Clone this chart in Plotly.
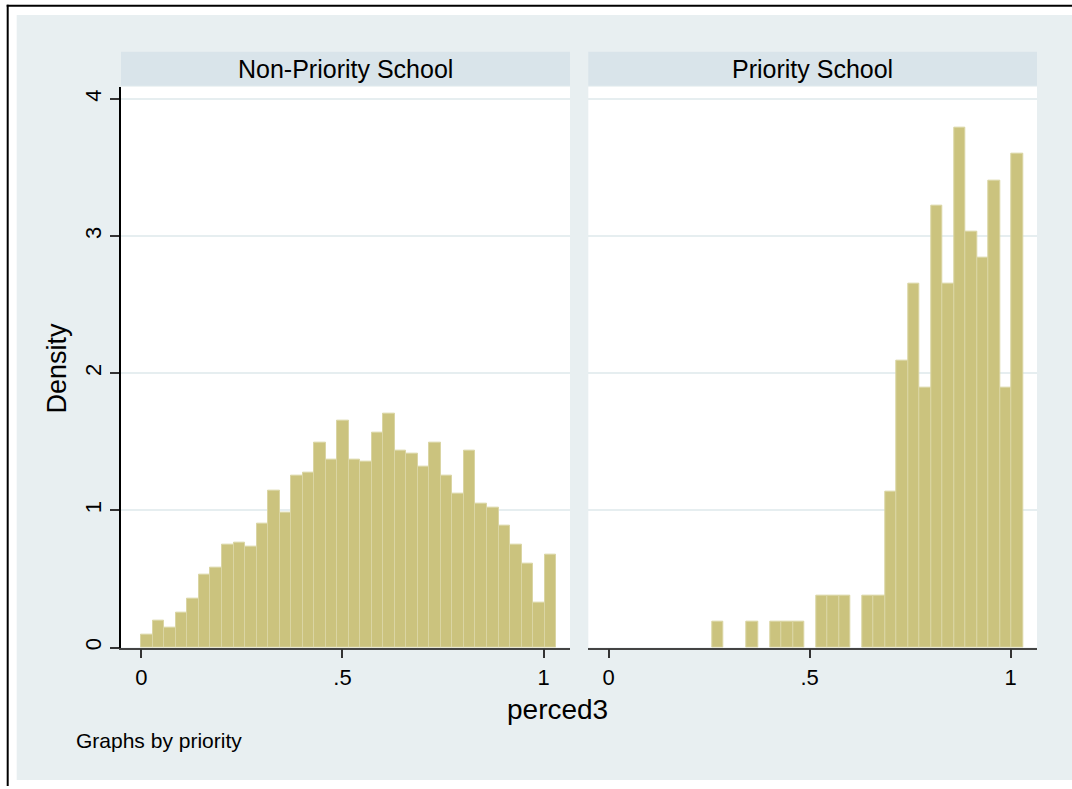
import plotly.graph_objects as go

# ---- data ----
bin_start = 0.0
bin_width = 0.02864
panels = ["Non-Priority School", "Priority School"]
density_nonpriority = [0.093, 0.195, 0.146, 0.255, 0.357, 0.534, 0.580, 0.749, 0.766, 0.739,
                       0.904, 1.143, 0.984, 1.250, 1.274, 1.492, 1.368, 1.654, 1.370, 1.356,
                       1.564, 1.705, 1.439, 1.414, 1.322, 1.494, 1.255, 1.124, 1.439, 1.051,
                       1.020, 0.892, 0.751, 0.611, 0.325, 0.674]
density_priority = [None, None, None, None, None, None, None, None, None, 0.186,
                    None, None, 0.186, None, 0.186, 0.186, 0.186, None, 0.379, 0.379,
                    0.379, None, 0.379, 0.379, 1.134, 2.089, 2.653, 1.892, 3.223, 2.653,
                    3.793, 3.030, 2.841, 3.406, 1.892, 3.600]
x_tickvals = [0, 0.5, 1]
x_ticktext = ["0", ".5", "1"]
y_tickvals = [0, 1, 2, 3, 4]
y_ticktext = ["0", "1", "2", "3", "4"]
x_title = "perced3"
y_title = "Density"
note = "Graphs by priority"

# ---- layout helpers ----
W, H = 1072, 789
FONT = "Liberation Sans, Arial, sans-serif"
BG = "#E8EFF1"
STRIP = "#D9E4EA"
GRID = "#E6EEF0"
BAR = "#CBC37E"
BAR_LINE = "#DAD5A3"


def px(x):
    return x / W


def py(y):
    return 1 - y / H


centers = [bin_start + bin_width * (i + 0.5) for i in range(len(density_nonpriority))]

fig = go.Figure()
for k, vals in enumerate([density_nonpriority, density_priority]):
    fig.add_trace(go.Bar(
        x=centers, y=vals, width=bin_width,
        marker=dict(color=BAR, line=dict(color=BAR_LINE, width=1)),
        xaxis="x" if k == 0 else "x2", yaxis="y" if k == 0 else "y2",
        showlegend=False, hoverinfo="x+y",
    ))

plot_top, plot_bot = 87, 650
left_dom = [px(121), px(570)]
right_dom = [px(588.3), px(1037)]
ydom = [py(plot_bot), py(plot_top)]
xrange = [-0.0505, 1.0655]
yrange = [0, 4.09]

xaxis_common = dict(
    range=xrange, tickvals=x_tickvals, ticktext=x_ticktext, ticks="outside",
    ticklen=9, tickwidth=1.5, tickcolor="#333333", showgrid=False, zeroline=False,
    showline=True, linecolor="#444444", linewidth=1.5,
    tickfont=dict(family=FONT, size=22, color="black"), fixedrange=True,
)
fig.update_layout(
    width=W, height=H,
    margin=dict(l=0, r=0, t=0, b=0),
    paper_bgcolor="white", plot_bgcolor="white",
    bargap=0,
    xaxis=dict(domain=left_dom, anchor="y", **xaxis_common),
    xaxis2=dict(domain=right_dom, anchor="y2", **xaxis_common),
    yaxis=dict(
        domain=ydom, range=yrange, tickvals=y_tickvals, ticktext=y_ticktext,
        ticks="outside", ticklen=9, tickwidth=1.5, tickcolor="#333333",
        tickangle=-90, showline=True, linecolor="black", linewidth=1.5,
        showgrid=True, gridcolor=GRID, gridwidth=1.5, zeroline=False,
        tickfont=dict(family=FONT, size=22, color="black"), fixedrange=True,
        anchor="x",
    ),
    yaxis2=dict(
        domain=ydom, range=yrange, tickvals=y_tickvals, showticklabels=False,
        ticks="", showline=False, showgrid=True, gridcolor=GRID, gridwidth=1.5,
        zeroline=False, anchor="x2", fixedrange=True,
    ),
    font=dict(family=FONT, color="black"),
)

shapes = [
    # graph region background
    dict(type="rect", xref="paper", yref="paper", x0=px(16.7), x1=1.0, y0=py(783), y1=py(15),
         fillcolor=BG, line=dict(width=0), layer="below"),
    # plot regions (white)
    dict(type="rect", xref="paper", yref="paper", x0=left_dom[0], x1=left_dom[1], y0=ydom[0], y1=ydom[1],
         fillcolor="white", line=dict(width=0), layer="below"),
    dict(type="rect", xref="paper", yref="paper", x0=right_dom[0], x1=right_dom[1], y0=ydom[0], y1=ydom[1],
         fillcolor="white", line=dict(width=0), layer="below"),
    # strips
    dict(type="rect", xref="paper", yref="paper", x0=left_dom[0], x1=left_dom[1], y0=py(86), y1=py(52),
         fillcolor=STRIP, line=dict(width=0), layer="below"),
    dict(type="rect", xref="paper", yref="paper", x0=right_dom[0], x1=right_dom[1], y0=py(86), y1=py(52),
         fillcolor=STRIP, line=dict(width=0), layer="below"),
    # outer black frame (left and top)
    dict(type="line", xref="paper", yref="paper", x0=px(7.7), x1=px(7.7), y0=0, y1=py(4.7),
         line=dict(color="black", width=2)),
    dict(type="line", xref="paper", yref="paper", x0=px(6.7), x1=1.0, y0=py(5.7), y1=py(5.7),
         line=dict(color="black", width=2)),
]
fig.update_layout(shapes=shapes)

annotations = [
    dict(text=panels[0], x=(left_dom[0] + left_dom[1]) / 2, y=py(69), xref="paper", yref="paper",
         showarrow=False, font=dict(size=25, family=FONT), xanchor="center", yanchor="middle"),
    dict(text=panels[1], x=(right_dom[0] + right_dom[1]) / 2, y=py(69), xref="paper", yref="paper",
         showarrow=False, font=dict(size=25, family=FONT), xanchor="center", yanchor="middle"),
    dict(text=y_title, x=px(57), y=py(370), xref="paper", yref="paper", textangle=-90,
         showarrow=False, font=dict(size=27, family=FONT), xanchor="center", yanchor="middle"),
    dict(text=x_title, x=px(557), y=py(712), xref="paper", yref="paper",
         showarrow=False, font=dict(size=28, family=FONT), xanchor="center", yanchor="middle"),
    dict(text=note, x=px(74), y=py(743), xref="paper", yref="paper",
         showarrow=False, font=dict(size=21, family=FONT), xanchor="left", yanchor="middle"),
]
fig.update_layout(annotations=annotations)

fig.write_html("out.html", post_script="document.body.style.margin='0';",
               config={"displayModeBar": False})
